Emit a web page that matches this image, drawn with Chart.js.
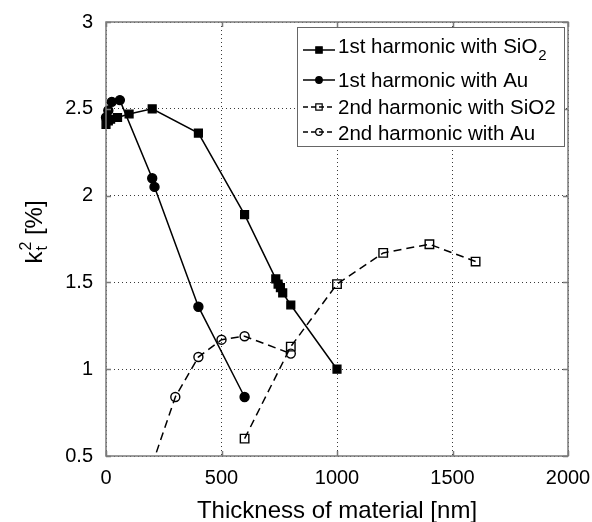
<!DOCTYPE html>
<html>
<head>
<meta charset="utf-8">
<script src="https://cdn.jsdelivr.net/npm/chart.js@4.4.1/dist/chart.umd.min.js"></script>
<style>
  html, body { margin: 0; padding: 0; background: #fff; }
  #wrap { width: 592px; height: 522px; }
</style>
</head>
<body>
<div id="wrap"><canvas id="chart" width="592" height="522"></canvas></div>
<script>
// thickness [nm] and kt2 [%]
const sio2FirstX = [0, 10, 20, 50, 100, 200, 400, 600, 735, 745, 755, 765, 800, 1000]
const sio2FirstY = [2.41, 2.43, 2.44, 2.45, 2.47, 2.50, 2.36, 1.89, 1.52, 1.49, 1.47, 1.44, 1.37, 1.00]

const auFirstX = [0, 10, 25, 60, 200, 210, 400, 600]
const auFirstY = [2.45, 2.49, 2.54, 2.55, 2.10, 2.05, 1.36, 0.84]

const sio2SecondX = [600, 800, 1000, 1200, 1400, 1600]
const sio2SecondY = [0.60, 1.13, 1.49, 1.67, 1.72, 1.62]

const auSecondX = [200, 300, 400, 500, 600, 800]
const auSecondY = [0.45, 0.84, 1.07, 1.17, 1.19, 1.09]

const xTicks = [0, 500, 1000, 1500, 2000]
const yTicks = [0.5, 1, 1.5, 2, 2.5, 3]

const seriesNames = ["1st harmonic with SiO", "1st harmonic with Au", "2nd harmonic with SiO2", "2nd harmonic with Au"]
const seriesSub = ["2", "", "", ""]

const FONT = "'Liberation Sans', Arial, sans-serif"

function points(xs, ys) {
  return xs.map((x, i) => ({ x: x, y: ys[i] }))
}

function series(label, xs, ys, style, filled, dashed) {
  return {
    label: label,
    data: points(xs, ys),
    borderColor: "#000",
    borderWidth: 1.5,
    borderDash: dashed ? [8, 5] : [],
    pointStyle: style,
    pointRadius: style === "rect" ? (filled ? 5.5 : 6) : 4.5,
    pointBorderWidth: 1.4,
    pointBorderColor: "#000",
    pointBackgroundColor: filled ? "#000" : "rgba(0,0,0,0)",
    fill: false,
    tension: 0,
    clip: { left: 8, right: 8, top: 8, bottom: dashed ? 0 : 8 }
  }
}

const datasets = [
  series(seriesNames[0], sio2FirstX, sio2FirstY, "rect", true, false),
  series(seriesNames[1], auFirstX, auFirstY, "circle", true, false),
  series(seriesNames[2], sio2SecondX, sio2SecondY, "rect", false, true),
  series(seriesNames[3], auSecondX, auSecondY, "circle", false, true)
]

function marker(ctx, ds, x, y, r) {
  ctx.save()
  ctx.setLineDash([])
  ctx.lineWidth = 1.2
  ctx.strokeStyle = "#000"
  ctx.fillStyle = ds.pointBackgroundColor
  ctx.beginPath()
  if (ds.pointStyle === "rect") ctx.rect(x - r, y - r, 2 * r, 2 * r)
  else ctx.arc(x, y, r, 0, Math.PI * 2)
  ctx.fill()
  ctx.stroke()
  ctx.restore()
}

// axes box, inward ticks, titles and a matlab-like legend
const decorPlugin = {
  id: "decor",
  afterDatasetsDraw(chart) {
    const ctx = chart.ctx
    const a = chart.chartArea
    const xs = chart.scales.x
    const ys = chart.scales.y
    ctx.save()
    ctx.strokeStyle = "#7a7a7a"
    ctx.lineWidth = 1.5
    ctx.setLineDash([])
    ctx.strokeRect(a.left, a.top, a.right - a.left, a.bottom - a.top)
    ctx.beginPath()
    xTicks.forEach(v => {
      const px = Math.round(xs.getPixelForValue(v)) + 0.5
      ctx.moveTo(px, a.bottom); ctx.lineTo(px, a.bottom - 5)
      ctx.moveTo(px, a.top); ctx.lineTo(px, a.top + 5)
    })
    yTicks.forEach(v => {
      const py = Math.round(ys.getPixelForValue(v)) + 0.5
      ctx.moveTo(a.left, py); ctx.lineTo(a.left + 5, py)
      ctx.moveTo(a.right, py); ctx.lineTo(a.right - 5, py)
    })
    ctx.stroke()
    ctx.restore()
  },
  afterDraw(chart) {
    const ctx = chart.ctx
    const a = chart.chartArea
    ctx.save()
    ctx.fillStyle = "#000"

    // x title
    ctx.font = "24px " + FONT
    ctx.textAlign = "center"
    ctx.textBaseline = "middle"
    ctx.fillText("Thickness of material [nm]", (a.left + a.right) / 2, 511)

    // y title: k, sub t, sup 2, [%]
    ctx.save()
    ctx.translate(42, (a.top + a.bottom) / 2 - 7)
    ctx.rotate(-Math.PI / 2)
    ctx.textAlign = "left"
    ctx.textBaseline = "alphabetic"
    const big = "24px " + FONT
    const small = "16px " + FONT
    ctx.font = big
    const wk = ctx.measureText("k").width
    const wr = ctx.measureText(" [%]").width
    ctx.font = small
    const ws = ctx.measureText("2").width
    const total = wk + ws + 1 + wr
    let x0 = -total / 2
    ctx.font = big
    ctx.fillText("k", x0, 0)
    ctx.font = small
    ctx.fillText("2", x0 + wk + 1, -11)
    ctx.fillText("t", x0 + wk + 1, 5)
    ctx.font = big
    ctx.fillText(" [%]", x0 + wk + ws + 1, 0)
    ctx.restore()

    // legend box
    const bx = 297, by = 27, bw = 267, bh = 119
    ctx.fillStyle = "#fff"
    ctx.fillRect(bx, by, bw, bh)
    ctx.strokeStyle = "#666"
    ctx.lineWidth = 1
    ctx.strokeRect(bx + 0.5, by + 0.5, bw, bh)
    const rowY = [50, 80, 107, 132]
    const baseY = [53, 87, 113.5, 139.5]
    chart.data.datasets.forEach((ds, i) => {
      const y = rowY[i]
      ctx.save()
      ctx.strokeStyle = "#000"
      ctx.lineWidth = 1.5
      ctx.setLineDash(ds.borderDash.length ? [5, 3] : [])
      ctx.beginPath()
      ctx.moveTo(303, y); ctx.lineTo(335, y)
      ctx.stroke()
      ctx.restore()
      marker(ctx, ds, 319, y, ds.pointStyle === "rect" ? 3.2 : 3.3)
      ctx.fillStyle = "#000"
      ctx.font = "20.5px " + FONT
      ctx.textAlign = "left"
      ctx.textBaseline = "alphabetic"
      ctx.fillText(seriesNames[i], 338, baseY[i])
      if (seriesSub[i]) {
        const w = ctx.measureText(seriesNames[i]).width
        ctx.font = "15px " + FONT
        ctx.fillText(seriesSub[i], 338 + w + 1, baseY[i] + 7)
      }
    })
    ctx.restore()
  }
}

const tickFont = { family: FONT, size: 20 }

new Chart(document.getElementById("chart"), {
  type: "line",
  data: { datasets: datasets },
  options: {
    responsive: false,
    animation: false,
    events: [],
    layout: { padding: { top: 22, right: 24, left: 0, bottom: 0 } },
    plugins: { legend: { display: false }, tooltip: { enabled: false } },
    scales: {
      x: {
        type: "linear",
        min: 0,
        max: 2000,
        afterBuildTicks: (scale) => { scale.ticks = xTicks.map(v => ({ value: v })) },
        afterFit: (scale) => { scale.height = 66; scale.paddingLeft = 0; scale.paddingRight = 0 },
        ticks: { color: "#000", font: tickFont, padding: 10, maxRotation: 0, callback: (v) => String(v) },
        grid: { color: "#3a3a3a", lineWidth: 1, drawTicks: false },
        border: { display: false, dash: [1, 3] }
      },
      y: {
        type: "linear",
        min: 0.5,
        max: 3,
        afterBuildTicks: (scale) => { scale.ticks = yTicks.map(v => ({ value: v })) },
        afterFit: (scale) => { scale.width = 106; scale.paddingTop = 0; scale.paddingBottom = 0 },
        ticks: { color: "#000", font: tickFont, padding: 13, callback: (v) => String(v) },
        grid: { color: "#3a3a3a", lineWidth: 1, drawTicks: false },
        border: { display: false, dash: [1, 3] }
      }
    }
  },
  plugins: [decorPlugin]
})
</script>
</body>
</html>
